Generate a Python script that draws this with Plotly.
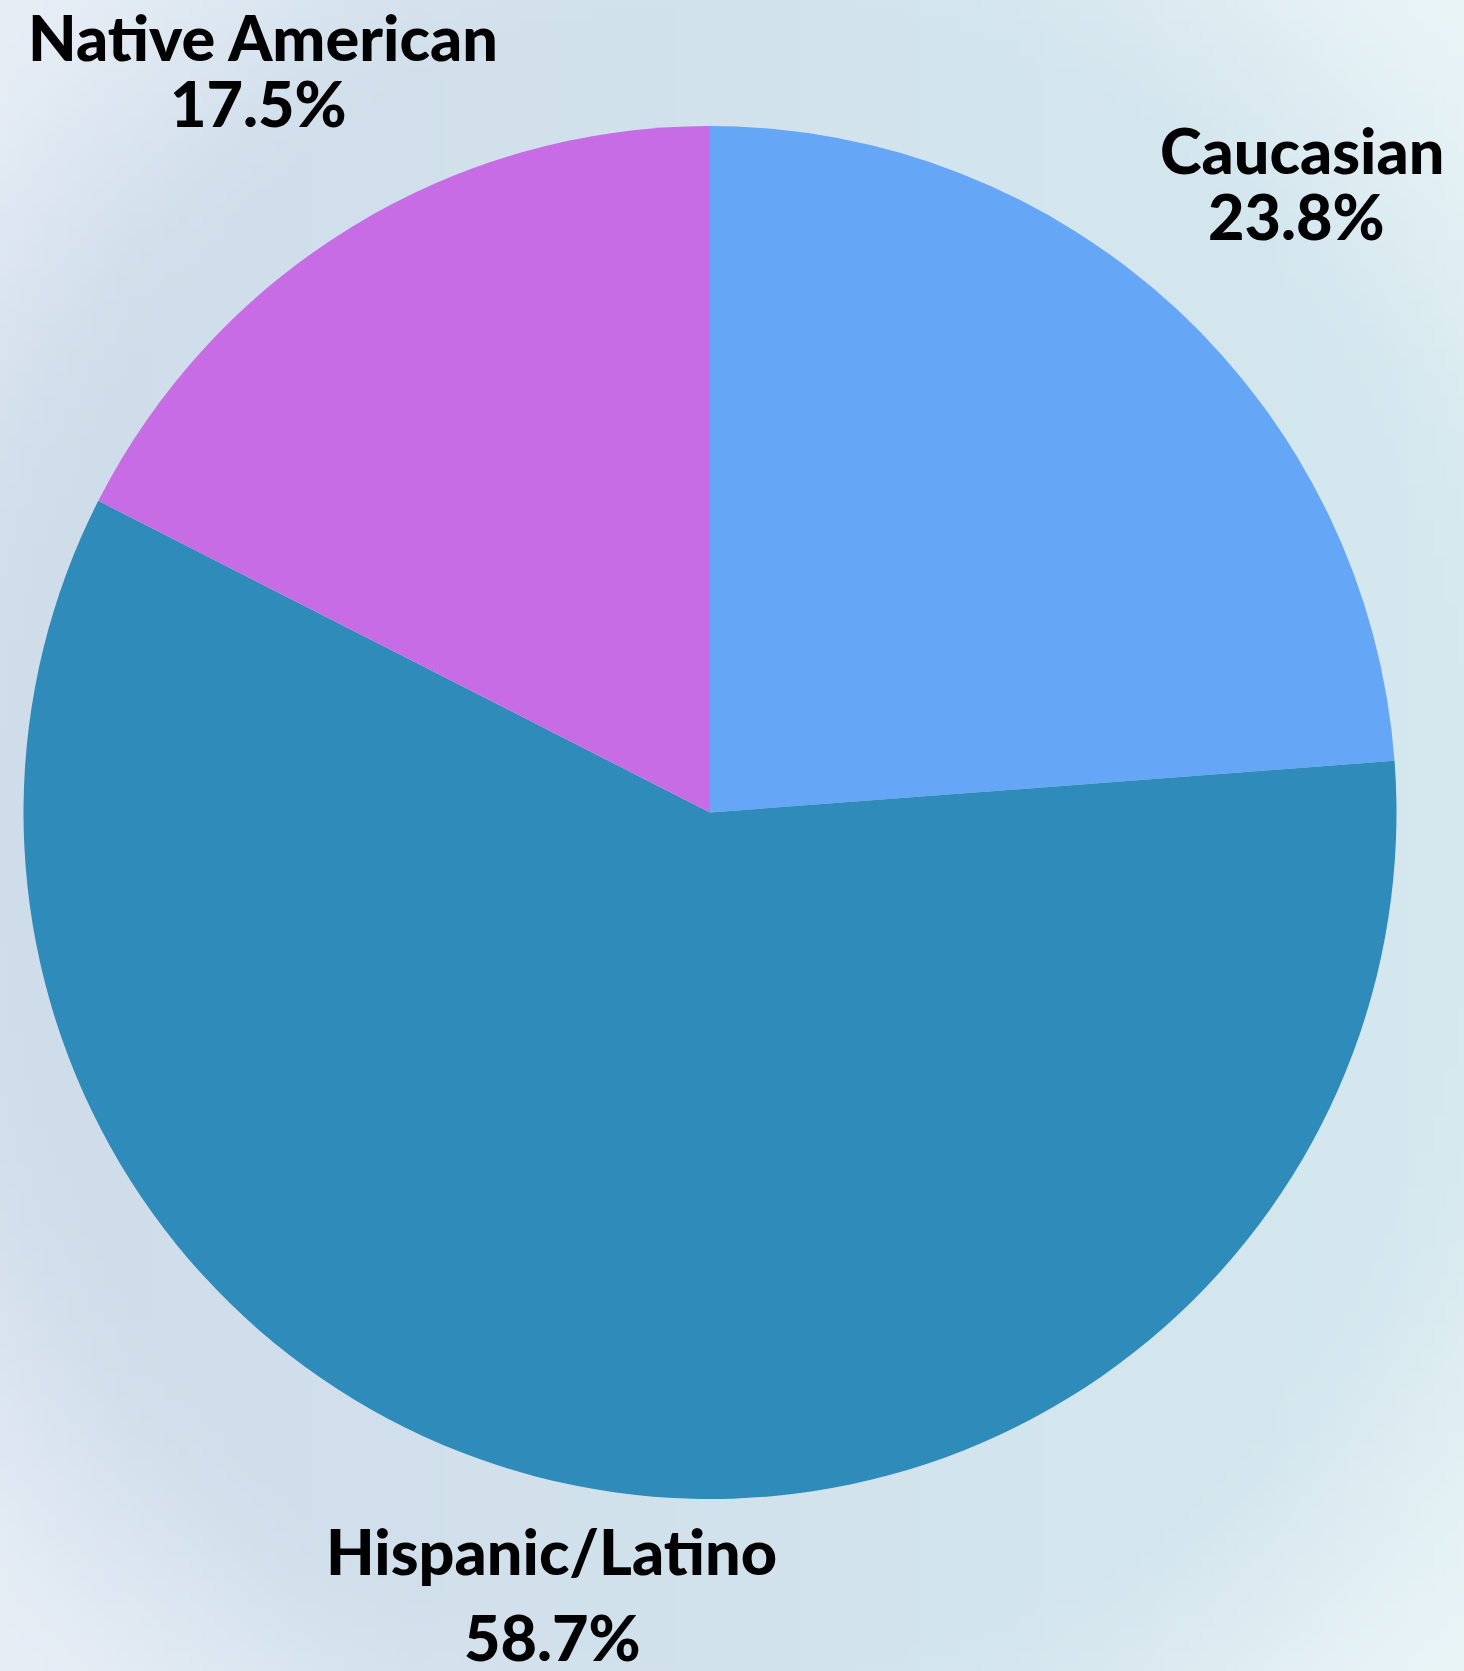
import base64
import struct
import zlib

import plotly.graph_objects as go

# ---- data ----
categories = ["Caucasian", "Hispanic/Latino", "Native American"]
shares = [23.8, 58.7, 17.5]
slice_colors = ["#66a6f6", "#2e8bba", "#c76ce5"]

W, H = 1464, 1671

# ---- background gradient as an embedded PNG ----
def lerp(a, b, t):
    return tuple(int(round(a[i] + (b[i] - a[i]) * t)) for i in range(3))

def smooth(e0, e1, x):
    t = max(0.0, min(1.0, (x - e0) / (e1 - e0)))
    return t * t * (3 - 2 * t)

left_mid = (207, 220, 234)
right_mid = (212, 232, 238)
corner_l = (230, 237, 245)
corner_r = (232, 243, 246)
iw, ih = 120, 137
rows = []
for j in range(ih):
    y = j / (ih - 1)
    row = bytearray([0])
    for i in range(iw):
        x = i / (iw - 1)
        base = lerp(left_mid, right_mid, x)
        corner = lerp(corner_l, corner_r, x)
        d = (((x - 0.5) / 0.5) ** 2 + ((y - 0.5) / 0.5) ** 2) ** 0.5 / 2 ** 0.5
        c = lerp(base, corner, smooth(0.68, 1.0, d))
        row.extend(c)
    rows.append(bytes(row))
raw = b"".join(rows)

def chunk(tag, data):
    c = struct.pack(">I", len(data)) + tag + data
    return c + struct.pack(">I", zlib.crc32(tag + data) & 0xFFFFFFFF)

png = b"\x89PNG\r\n\x1a\n"
png += chunk(b"IHDR", struct.pack(">IIBBBBB", iw, ih, 8, 2, 0, 0, 0))
png += chunk(b"IDAT", zlib.compress(raw, 9))
png += chunk(b"IEND", b"")
bg_uri = "data:image/png;base64," + base64.b64encode(png).decode()

# ---- figure ----
fig = go.Figure(
    go.Pie(
        labels=categories,
        values=shares,
        marker=dict(colors=slice_colors, line=dict(width=0)),
        sort=False,
        direction="clockwise",
        rotation=0,
        textinfo="none",
        hoverinfo="label+percent",
        showlegend=False,
        domain=dict(x=[23 / W, 1397 / W], y=[1 - 1499 / H, 1 - 126 / H]),
    )
)

label_font = dict(family="Lato", size=63, color="#000000", weight=900)
# label block positions in pixels (name centre, percent centre)
name_pos = [(1302, 149), (551, 1550), (263, 37)]
pct_pos = [(1296, 216), (552, 1636), (258, 103)]

annotations = []
for cat, val, (nx, ny), (px, py) in zip(categories, shares, name_pos, pct_pos):
    annotations.append(dict(text=cat, x=nx / W, y=1 - ny / H, xref="paper", yref="paper",
                            xanchor="center", yanchor="middle", showarrow=False,
                            borderpad=0, font=label_font))
    annotations.append(dict(text=f"{val:.1f}%", x=px / W, y=1 - py / H, xref="paper", yref="paper",
                            xanchor="center", yanchor="middle", showarrow=False,
                            borderpad=0, font=label_font))

fig.update_layout(
    width=W,
    height=H,
    margin=dict(l=0, r=0, t=0, b=0),
    paper_bgcolor="#d8e5ec",
    plot_bgcolor="rgba(0,0,0,0)",
    annotations=annotations,
    images=[dict(source=bg_uri, xref="paper", yref="paper", x=0, y=1, sizex=1, sizey=1,
                 xanchor="left", yanchor="top", sizing="stretch", layer="below")],
)

fig.write_html(
    "out.html",
    config={"displayModeBar": False},
    post_script="document.body.style.margin='0';document.body.style.padding='0';",
)
